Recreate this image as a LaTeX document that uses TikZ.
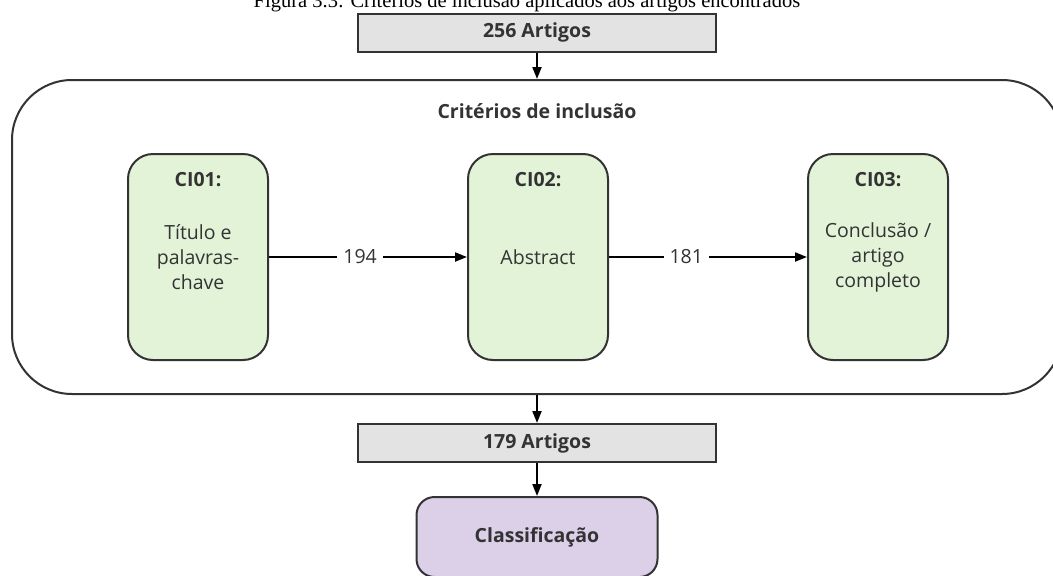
\documentclass[tikz,border=0pt]{standalone}
\usepackage{fontspec}
\setmainfont{Liberation Serif}
\newfontfamily\boxfont{Open Sans}
\usetikzlibrary{arrows.meta}
\usetikzlibrary{calc}
\definecolor{linegray}{HTML}{333333}
\definecolor{artfill}{HTML}{E3E3E3}
\definecolor{cifill}{HTML}{E2F3D8}
\definecolor{clsfill}{HTML}{DCD0E9}

\begin{document}
\begin{tikzpicture}[x=1pt, y=-1pt,
		artbox/.style={draw=linegray, line width=2pt, fill=artfill, minimum width=358pt, minimum height=38pt, font=\boxfont\bfseries\fontsize{19.5}{25}\selectfont, text=linegray},
		cibox/.style={draw=linegray, line width=2pt, fill=cifill, rounded corners=25pt, minimum width=140pt, minimum height=206pt, align=center, font=\boxfont\fontsize{19.5}{25}\selectfont, text=linegray},
		head/.style={font=\boxfont\bfseries\fontsize{19.5}{25}\selectfont, text=linegray},
		count/.style={fill=white, inner xsep=6pt, font=\boxfont\fontsize{19.5}{25}\selectfont, text=linegray},
		flow/.style={-{Triangle[length=12pt, width=9pt]}, line width=2pt, draw=black}
	]
	\useasboundingbox (0,0) rectangle (1053,576);
	\node[anchor=base, font=\fontsize{20.5}{24}\selectfont] (caption) at (527,7) {Figura 3.3: Critérios de inclusão aplicados aos artigos encontrados};
	\node[artbox] (art256) at (537,32.5) {256 Artigos};
	\node[draw=linegray, line width=2pt, rounded corners=60pt, minimum width=1050pt, minimum height=314pt] (criteria) at (537,237) {};
	\node[head] (crittitle) at (537,111) {Critérios de inclusão};
	% the three criteria
	\node[cibox] (ci1) at (198,257) {Título e\\palavras-\\chave};
	\node[cibox] (ci2) at (538,257) {Abstract};
	\node[cibox] (ci3) at (878,257) {Conclusão /\\artigo\\completo};
	\node[head, anchor=base] (ci1head) at ($(ci1.north)+(0,33)$) {CI01:};
	\node[head, anchor=base] (ci2head) at ($(ci2.north)+(0,33)$) {CI02:};
	\node[head, anchor=base] (ci3head) at ($(ci3.north)+(0,33)$) {CI03:};
	\draw[flow] (ci1) -- (ci2) node[count, pos=0.46] {194};
	\draw[flow] (ci2) -- (ci3) node[count, pos=0.39] {181};
	% results
	\node[artbox] (art179) at (537,443) {179 Artigos};
	\node[draw=linegray, line width=2pt, fill=clsfill, rounded corners=18pt, minimum width=241pt, minimum height=80pt, font=\boxfont\bfseries\fontsize{19.5}{25}\selectfont, text=linegray] (cls) at (537,537) {Classificação};
	\draw[flow] (art256) -- (criteria);
	\draw[flow] (criteria) -- (art179);
	\draw[flow] (art179) -- (cls);
\end{tikzpicture}
\end{document}
